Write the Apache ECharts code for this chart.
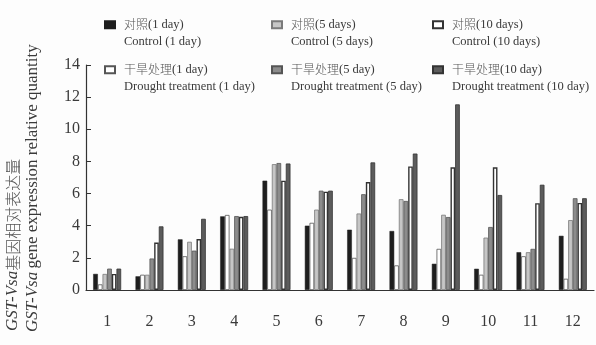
<!DOCTYPE html>
<html>
<head>
<meta charset="utf-8">
<script src="https://cdn.jsdelivr.net/npm/echarts@6/dist/echarts.min.js"></script>
<style>
  html, body { margin: 0; padding: 0; background: #fdfdfd; }
  #chart { width: 596px; height: 345px; }
</style>
</head>
<body>
<div id="chart"></div>
<script>
// Sample numbers (x axis)
const categories = ['1', '2', '3', '4', '5', '6', '7', '8', '9', '10', '11', '12'];

// Relative expression of GST-Vsa
const control1d  = [1.0, 0.85, 3.15, 4.58, 6.8, 4.0, 3.75, 3.67, 1.63, 1.32, 2.35, 3.37];
const drought1d  = [0.35, 0.95, 2.1, 4.67, 5.0, 4.18, 2.0, 1.53, 2.56, 0.95, 2.1, 0.7];
const control5d  = [1.0, 0.95, 3.0, 2.57, 7.83, 5.0, 4.76, 5.65, 4.68, 3.26, 2.35, 4.35];
const drought5d  = [1.33, 1.96, 2.45, 4.6, 7.9, 6.18, 5.96, 5.54, 4.54, 3.92, 2.56, 5.71];
const control10d = [1.0, 2.95, 3.17, 4.55, 6.8, 6.12, 6.72, 7.69, 7.63, 7.63, 5.4, 5.42];
const drought10d = [1.33, 3.96, 4.43, 4.6, 7.87, 6.18, 7.94, 8.49, 11.55, 5.91, 6.55, 5.71];

// Series names (Chinese / English)
const seriesNames = {
  c1:  ['对照(1 day)', 'Control (1 day)'],
  d1:  ['干旱处理(1 day)', 'Drought treatment (1 day)'],
  c5:  ['对照(5 days)', 'Control (5 days)'],
  d5:  ['干旱处理(5 day)', 'Drought treatment (5 day)'],
  c10: ['对照(10 days)', 'Control (10 days)'],
  d10: ['干旱处理(10 day)', 'Drought treatment (10 day)']
};

const yTicks = { min: 0, max: 14, interval: 2 };

const serif = '"Liberation Serif", "Times New Roman", serif';
const cjk = '"Noto Sans CJK SC", sans-serif';
const textColor = '#3a3a3a';

const chart = echarts.init(document.getElementById('chart'), null, { renderer: 'canvas' });

function barSeries(key, data, fill, border, bw) {
  return {
    name: seriesNames[key][0],
    type: 'bar',
    data: data,
    barGap: '0%',
    barCategoryGap: '34%',
    itemStyle: { color: fill, borderColor: border, borderWidth: bw },
    emphasis: { disabled: true }
  };
}

function legendAt(key, left, top) {
  return {
    data: [seriesNames[key][0]],
    left: left,
    top: top,
    padding: 0,
    icon: 'rect',
    itemWidth: 10,
    itemHeight: 7,
    selectedMode: false,
    formatter: function (n) {
      // Chinese part in the CJK face, the bracketed day count in serif
      const cut = n.indexOf('(');
      return '{e|}\n{z|' + n.slice(0, cut) + '}{l|' + n.slice(cut) + '}\n{e|' + seriesNames[key][1] + '}';
    },
    textStyle: {
      fontFamily: serif,
      fontSize: 12.5,
      lineHeight: 16.5,
      color: textColor,
      rich: {
        z: { fontFamily: cjk, fontWeight: 300, fontSize: 12, lineHeight: 16.5, color: '#555', padding: [0, 0, 0, 4] },
        l: { fontFamily: serif, fontSize: 12.5, lineHeight: 16.5, color: textColor },
        e: { fontFamily: serif, fontSize: 12.5, lineHeight: 16.5, color: textColor, padding: [0, 0, 0, 4] }
      }
    }
  };
}

const option = {
  backgroundColor: '#fdfdfd',
  animation: false,
  grid: { left: 86, right: 2, top: 65, bottom: 55 },
  legend: [
    legendAt('c1', 104, 0),
    legendAt('c5', 271, 0),
    legendAt('c10', 432, 0),
    legendAt('d1', 104, 45),
    legendAt('d5', 271, 45),
    legendAt('d10', 432, 45)
  ],
  xAxis: {
    type: 'category',
    data: categories,
    axisLine: { lineStyle: { color: '#333', width: 1.2 } },
    axisTick: { show: false },
    axisLabel: { fontFamily: serif, fontSize: 16, color: textColor, margin: 24 }
  },
  yAxis: {
    type: 'value',
    min: yTicks.min,
    max: yTicks.max,
    interval: yTicks.interval,
    axisLine: { show: true, lineStyle: { color: '#333', width: 1.2 } },
    axisTick: { show: true, inside: true, length: 5, lineStyle: { color: '#333' } },
    axisLabel: { fontFamily: serif, fontSize: 16, color: textColor, margin: 6 },
    splitLine: { show: false }
  },
  graphic: [
    {
      type: 'text',
      x: 13,
      y: 331,
      rotation: Math.PI / 2,
      style: {
        text: '{i|GST-Vsa}{n|基因相对表达量}',
        verticalAlign: 'middle',
        align: 'left',
        fill: textColor,
        rich: {
          i: { fontFamily: serif, fontStyle: 'italic', fontSize: 17, fill: textColor },
          n: { fontFamily: cjk, fontWeight: 300, fontSize: 16, fill: '#555' }
        }
      }
    },
    {
      type: 'text',
      x: 33,
      y: 332,
      rotation: Math.PI / 2,
      style: {
        text: '{i|GST-Vsa} {n|gene expression relative quantity}',
        verticalAlign: 'middle',
        align: 'left',
        fill: textColor,
        rich: {
          i: { fontFamily: serif, fontStyle: 'italic', fontSize: 17, fill: textColor },
          n: { fontFamily: serif, fontSize: 17, fill: textColor }
        }
      }
    }
  ],
  series: [
    barSeries('c1', control1d, '#1e1e1e', '#1e1e1e', 0.5),
    barSeries('d1', drought1d, '#ffffff', '#555555', 0.8),
    barSeries('c5', control5d, '#c6c6c6', '#7a7a7a', 0.8),
    barSeries('d5', drought5d, '#8c8c8c', '#555555', 0.8),
    barSeries('c10', control10d, '#ffffff', '#333333', 1.4),
    barSeries('d10', drought10d, '#5c5c5c', '#333333', 0.8)
  ]
};

chart.setOption(option);
</script>
</body>
</html>
